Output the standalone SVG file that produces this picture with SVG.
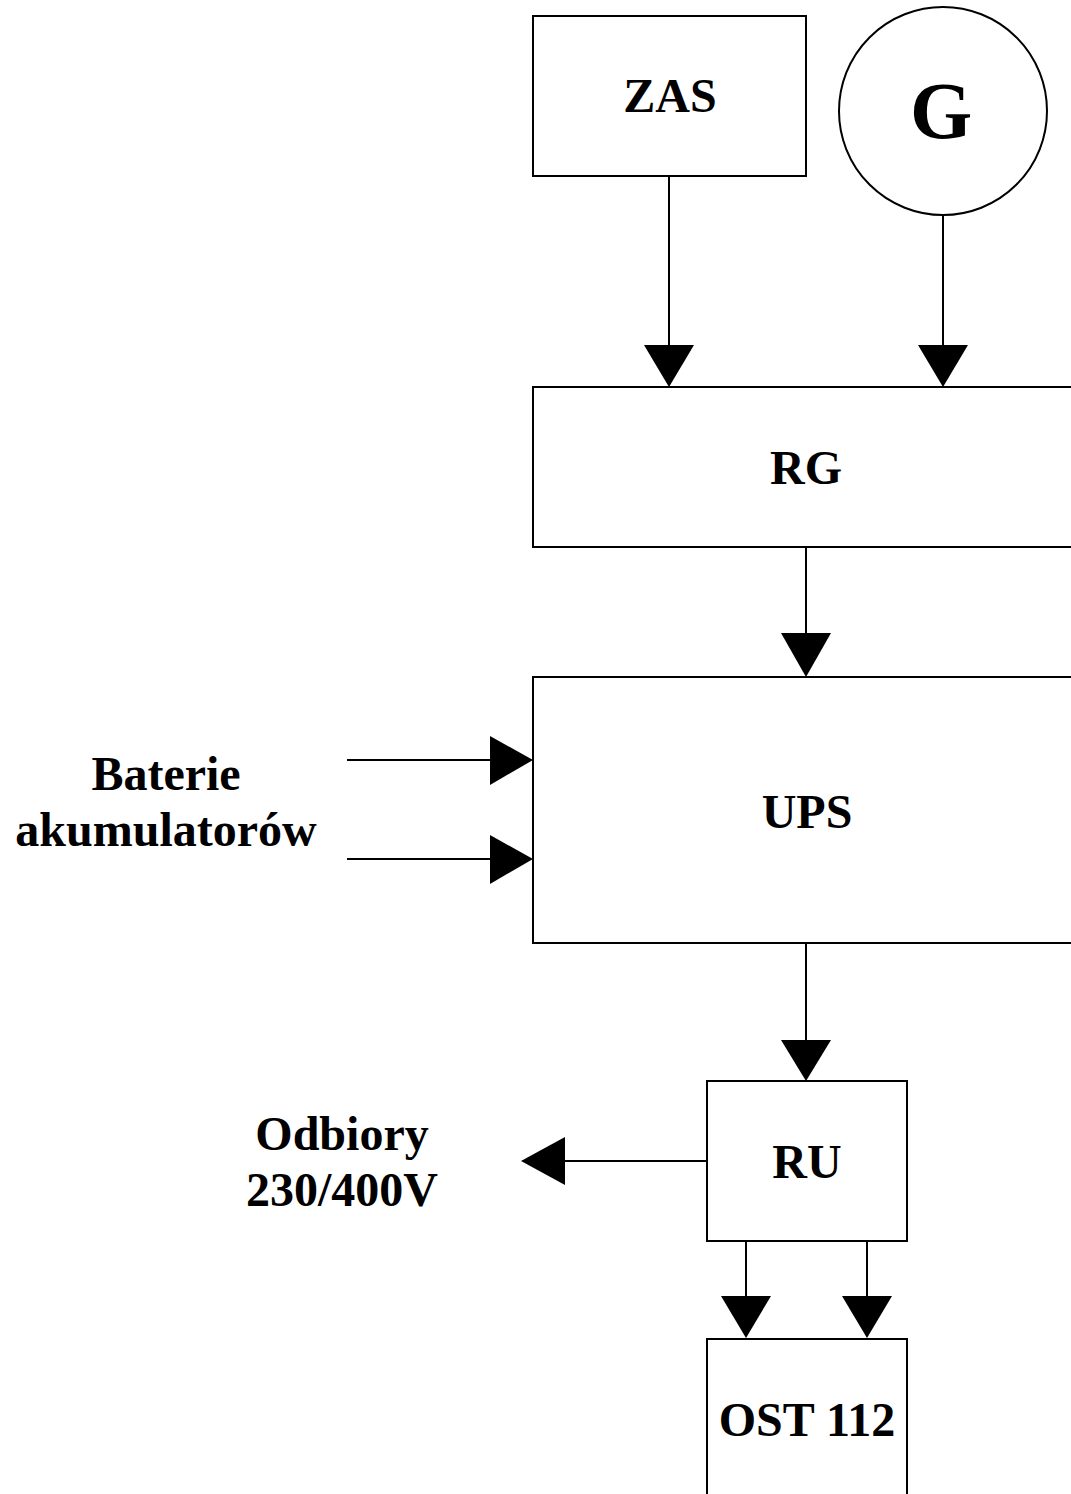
<svg xmlns="http://www.w3.org/2000/svg" width="1071" height="1494" viewBox="0 0 1071 1494">
<style>
.box{fill:#fff;stroke:#000;stroke-width:2}
.ln{stroke:#000;stroke-width:2;fill:none}
.ah{fill:#000;stroke:none}
text{font-family:"Liberation Serif","Times New Roman",serif;font-weight:bold;font-size:48px;fill:#000;text-anchor:middle}
</style>
<rect width="1071" height="1494" fill="#fff"/>
<g id="connectors">
<line class="ln" x1="669" y1="176" x2="669" y2="346"/>
<polygon class="ah" points="644,345 694,345 669,387"/>
<line class="ln" x1="943" y1="214" x2="943" y2="346"/>
<polygon class="ah" points="918,345 968,345 943,387"/>
<line class="ln" x1="806" y1="547" x2="806" y2="634"/>
<polygon class="ah" points="781,633 831,633 806,677"/>
<line class="ln" x1="347" y1="760" x2="491" y2="760"/>
<polygon class="ah" points="490,736 490,785 533,760"/>
<line class="ln" x1="347" y1="859" x2="491" y2="859"/>
<polygon class="ah" points="490,835 490,884 533,859"/>
<line class="ln" x1="806" y1="943" x2="806" y2="1041"/>
<polygon class="ah" points="781,1040 831,1040 806,1081"/>
<line class="ln" x1="707" y1="1161" x2="564" y2="1161"/>
<polygon class="ah" points="565,1137 565,1185 521,1161"/>
<line class="ln" x1="746" y1="1241" x2="746" y2="1297"/>
<polygon class="ah" points="721,1296 771,1296 746,1338"/>
<line class="ln" x1="867" y1="1241" x2="867" y2="1297"/>
<polygon class="ah" points="842,1296 892,1296 867,1338"/>
</g>
<g id="ZAS">
<rect class="box" x="533" y="16" width="273" height="160"/>
<text x="670" y="112">ZAS</text>
</g>
<g id="G">
<circle class="box" cx="943" cy="111" r="104"/>
<text x="941" y="138" style="font-size:80px">G</text>
</g>
<g id="RG">
<rect class="box" x="533" y="387" width="560" height="160"/>
<text x="806" y="484">RG</text>
</g>
<g id="UPS">
<rect class="box" x="533" y="677" width="560" height="266"/>
<text x="807" y="828">UPS</text>
</g>
<g id="bat">
<text x="166" y="790">Baterie</text>
<text x="166" y="846">akumulatorów</text>
</g>
<g id="RU">
<rect class="box" x="707" y="1081" width="200" height="160"/>
<text x="807" y="1178">RU</text>
</g>
<g id="odb">
<text x="342" y="1150">Odbiory</text>
<text x="342" y="1206">230/400V</text>
</g>
<g id="OST">
<rect class="box" x="707" y="1339" width="200" height="200"/>
<text x="807" y="1436">OST 112</text>
</g>
</svg>
